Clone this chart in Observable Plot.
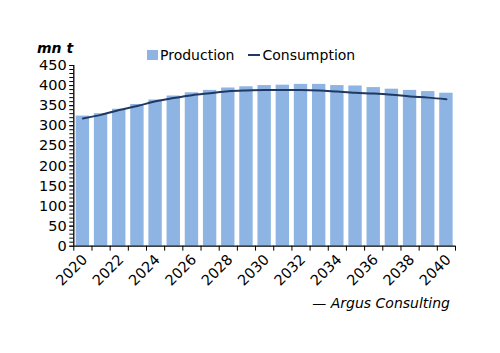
<!DOCTYPE html>
<html>
<head>
<meta charset="utf-8">
<script src="https://cdn.jsdelivr.net/npm/d3@7"></script>
<script src="https://cdn.jsdelivr.net/npm/@observablehq/plot@0.6"></script>
<style>
  html, body { margin: 0; padding: 0; background: #fff; }
  #wrap { position: relative; width: 500px; height: 353px; font-family: "DejaVu Sans", sans-serif; color: #000; overflow: hidden; }
  .abs { position: absolute; white-space: nowrap; font-size: 14px; line-height: 1; }
  #unit { left: 37px; top: 41px; font-weight: bold; font-style: italic; }
  #legend { left: 147px; top: 48px; display: flex; align-items: center; }
  .sw { display: inline-block; width: 11px; height: 9.5px; background: #8DB4E2; margin-right: 2px; }
  .ln { display: inline-block; width: 12px; height: 2px; background: #1F3864; margin-left: 14px; margin-right: 2px; }
  #caption { right: 50px; top: 296px; font-style: italic; }
</style>
</head>
<body>
<div id="wrap">
  <div id="chart"></div>
  <div id="unit" class="abs">mn t</div>
  <div id="legend" class="abs"><span class="sw"></span><span>Production</span><span class="ln"></span><span>Consumption</span></div>
  <div id="caption" class="abs">— Argus Consulting</div>
</div>
<script>
const years = [2020, 2021, 2022, 2023, 2024, 2025, 2026, 2027, 2028, 2029, 2030,
               2031, 2032, 2033, 2034, 2035, 2036, 2037, 2038, 2039, 2040];
const production = [324, 330, 341, 353, 364, 374, 382, 388, 394, 397, 400,
                    401, 403, 403, 400, 399, 395, 391, 388, 385, 381];
const consumption = [318, 327, 339, 349, 361, 369, 376, 381, 386, 388, 389,
                     389, 389, 388, 385, 382, 380, 377, 373, 370, 366];
const yTicks = [0, 50, 100, 150, 200, 250, 300, 350, 400, 450];
const xLabelYears = [2020, 2022, 2024, 2026, 2028, 2030, 2032, 2034, 2036, 2038, 2040];

const data = years.map((year, i) => ({year, production: production[i], consumption: consumption[i]}));
const xDomain = [years[0] - 0.5, years[years.length - 1] + 0.5];
const boundaries = years.map(y => y - 0.5).concat([xDomain[1]]);
const minorY = d3.range(0, 451, 10);

const chart = Plot.plot({
  width: 500,
  height: 353,
  marginTop: 65,
  marginBottom: 107.3,
  marginLeft: 73.3,
  marginRight: 45,
  style: { fontFamily: "DejaVu Sans, sans-serif", fontSize: "14.5px", color: "#000", background: "transparent", overflow: "visible" },
  x: { type: "linear", domain: xDomain },
  y: { domain: [0, 450] },
  marks: [
    Plot.rectY(data, {x1: d => d.year - 0.5, x2: d => d.year + 0.5, y: "production", fill: "#8DB4E2", insetLeft: 2.4, insetRight: 2.4}),
    Plot.lineY(data, {x: "year", y: "consumption", stroke: "#1F3864", strokeWidth: 2, curve: "monotone-x"}),
    Plot.ruleY([0], {stroke: "#000", strokeWidth: 1.3}),
    Plot.ruleX([xDomain[0]], {stroke: "#000", strokeWidth: 1.3}),
    Plot.axisY({ticks: minorY, tickSize: 4, tickFormat: () => "", label: null, stroke: "#000"}),
    Plot.axisY({ticks: yTicks, tickSize: 4, tickPadding: 3, label: null, stroke: "#000", fill: "#000"}),
    Plot.axisX({ticks: boundaries, tickSize: 5, tickFormat: () => "", label: null, stroke: "#000"}),
    Plot.axisX({ticks: xLabelYears, tickSize: 0, tickPadding: 11, tickRotate: -45, dx: 2, tickFormat: d => String(d), label: null, fill: "#000"})
  ]
});
document.getElementById("chart").appendChild(chart);
</script>
</body>
</html>
